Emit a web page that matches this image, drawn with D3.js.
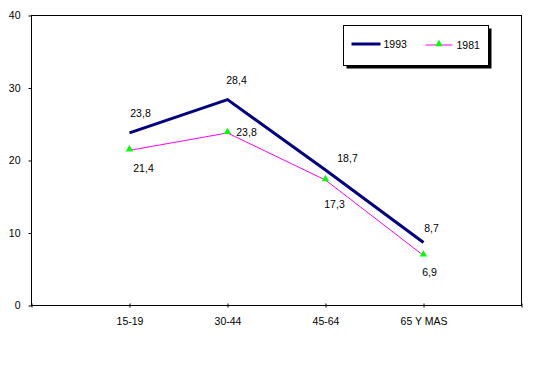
<!DOCTYPE html>
<html>
<head>
<meta charset="utf-8">
<script src="https://cdn.jsdelivr.net/npm/d3@7"></script>
<style>
  body { margin: 0; background: #fff; }
  svg { display: block; font-family: 'Liberation Sans', Arial, sans-serif; }
</style>
</head>
<body>
<div class="container"></div>
<script>
let categories = ['15-19', '30-44', '45-64', '65 Y MAS'];
let values1993 = [23.8, 28.4, 18.7, 8.7];
let values1981 = [21.4, 23.8, 17.3, 6.9];
let seriesNames = ['1993', '1981'];
let yTicks = [0, 10, 20, 30, 40];

// hand placed label offsets (dx, dy from the point) like in the original sheet
let offsets1993 = [[11, -20], [9, -19], [22, -12], [8, -14]];
let offsets1981 = [[14, 18], [19, -1], [9, 24], [6, 17]];

let width = 552;
let height = 368;
let plot = { left: 31.5, right: 521.5, top: 15.5, bottom: 305.5 };

let svg = d3
  .select('.container')
  .append('svg')
  .attr('width', width)
  .attr('height', height);

let x = d3
  .scaleLinear()
  .domain([0, categories.length + 1])
  .range([plot.left, plot.right]);

let y = d3.scaleLinear().domain([0, 40]).range([plot.bottom, plot.top]);

let fmt = (v) => String(v).replace('.', ',');

// frame
svg
  .append('rect')
  .attr('x', plot.left)
  .attr('y', plot.top)
  .attr('width', plot.right - plot.left)
  .attr('height', plot.bottom - plot.top)
  .attr('fill', 'none')
  .attr('stroke', 'black')
  .attr('stroke-width', 1);

let yAxis = svg
  .append('g')
  .attr('transform', 'translate(' + plot.left + ',0)')
  .style('font-size', '10.5px')
  .call(d3.axisLeft(y).tickValues(yTicks).tickSize(3).tickSizeOuter(0).tickPadding(8));
yAxis.select('.domain').remove();
yAxis.selectAll('text').attr('fill', 'black').attr('font-family', null);

let xTickVals = d3.range(0, categories.length + 2);
let xAxis = svg
  .append('g')
  .attr('transform', 'translate(0,' + plot.bottom + ')')
  .style('font-size', '10.5px')
  .call(
    d3
      .axisBottom(x)
      .tickValues(xTickVals)
      .tickSize(2)
      .tickSizeOuter(0)
      .tickPadding(10)
      .tickFormat((d) => (d >= 1 && d <= categories.length ? categories[d - 1] : ''))
  );
xAxis.select('.domain').remove();
xAxis.selectAll('.tick line').attr('y1', -2);
xAxis.selectAll('text').attr('fill', 'black').attr('font-family', null);

let line = d3
  .line()
  .x((d, i) => x(i + 1))
  .y((d) => y(d));

svg
  .append('path')
  .datum(values1981)
  .attr('d', line)
  .attr('fill', 'none')
  .attr('stroke', '#ff00ff')
  .attr('stroke-width', 1);

svg
  .append('path')
  .datum(values1993)
  .attr('d', line)
  .attr('fill', 'none')
  .attr('stroke', '#000080')
  .attr('stroke-width', 3)
  .attr('stroke-linejoin', 'miter');

let tri = d3.symbol().type(d3.symbolTriangle).size(24);

svg
  .append('g')
  .selectAll('path')
  .data(values1981)
  .enter()
  .append('path')
  .attr('d', tri)
  .attr('transform', (d, i) => 'translate(' + x(i + 1) + ',' + (y(d) - 1) + ')')
  .attr('fill', '#00ff00');

let addLabels = function (vals, offs) {
  svg
    .append('g')
    .selectAll('text')
    .data(vals)
    .enter()
    .append('text')
    .attr('x', (d, i) => x(i + 1) + offs[i][0])
    .attr('y', (d, i) => y(d) + offs[i][1])
    .attr('dy', '0.35em')
    .attr('text-anchor', 'middle')
    .style('font-size', '10.5px')
    .text((d) => fmt(d));
};
addLabels(values1993, offsets1993);
addLabels(values1981, offsets1981);

// legend
let legend = svg.append('g').attr('transform', 'translate(343.5,25.5)');
legend
  .append('rect')
  .attr('x', 3)
  .attr('y', 3)
  .attr('width', 145)
  .attr('height', 40)
  .attr('fill', 'black');
legend
  .append('rect')
  .attr('width', 145)
  .attr('height', 40)
  .attr('fill', 'white')
  .attr('stroke', 'black')
  .attr('stroke-width', 1);

legend
  .append('line')
  .attr('x1', 8)
  .attr('x2', 37)
  .attr('y1', 18.5)
  .attr('y2', 18.5)
  .attr('stroke', '#000080')
  .attr('stroke-width', 3);
legend
  .append('text')
  .attr('x', 40)
  .attr('y', 18.5)
  .attr('dy', '0.35em')
  .style('font-size', '10.5px')
  .text(seriesNames[0]);

legend
  .append('line')
  .attr('x1', 82)
  .attr('x2', 109)
  .attr('y1', 19.5)
  .attr('y2', 19.5)
  .attr('stroke', '#ff00ff')
  .attr('stroke-width', 1);
legend
  .append('path')
  .attr('d', tri)
  .attr('transform', 'translate(95.5,18.5)')
  .attr('fill', '#00ff00');
legend
  .append('text')
  .attr('x', 113)
  .attr('y', 19.5)
  .attr('dy', '0.35em')
  .style('font-size', '10.5px')
  .text(seriesNames[1]);
</script>
</body>
</html>
